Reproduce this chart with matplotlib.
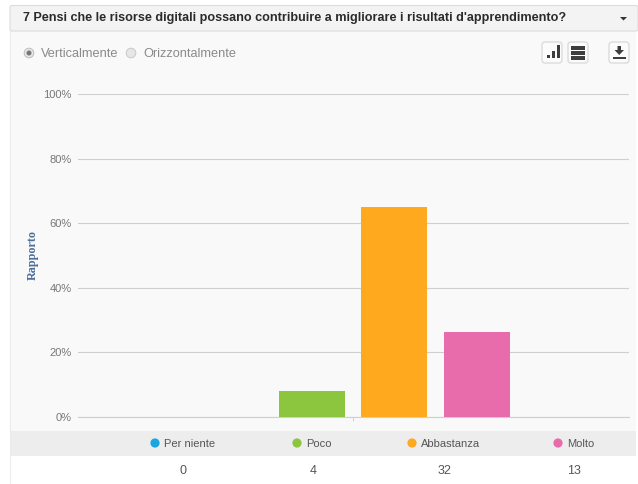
import matplotlib
matplotlib.use('Agg')
from matplotlib import pyplot as plt
from matplotlib.patches import Rectangle, FancyBboxPatch, Circle, Polygon

title = "7 Pensi che le risorse digitali possano contribuire a migliorare i risultati d'apprendimento?"
categories = ['Per niente', 'Poco', 'Abbastanza', 'Molto']
counts = [0, 4, 32, 13]
percents = [0, 7.9, 65.0, 26.3]
colors = ['#1ba6e0', '#8cc63f', '#ffa91f', '#e86bab']
legend_x = [155, 297, 412, 558]
count_x = [183, 313, 444, 574]
yticks = [0, 20, 40, 60, 80, 100]

plt.rcParams['font.family'] = ['Liberation Sans', 'DejaVu Sans']
fig = plt.figure(figsize=(6.38, 4.84), dpi=100, facecolor='white')

# page furniture, in pixels
bg = fig.add_axes([0, 0, 1, 1], zorder=0)
bg.set_xlim(0, 638)
bg.set_ylim(484, 0)
bg.axis('off')
bg.add_patch(Rectangle((10, 31), 626, 400, fc='#f9f9f9', ec='none'))
bg.add_patch(FancyBboxPatch((10, 5.5), 628, 25.5, boxstyle='round,pad=0,rounding_size=2',
                            fc='#f3f3f3', ec='#dcdcdc', lw=0.8))
bg.add_patch(Rectangle((10, 431), 626, 25, fc='#ededed', ec='none'))
bg.add_patch(Rectangle((10, 456), 626, 28, fc='white', ec='none'))
bg.plot([10, 10], [31, 484], c='#ececec', lw=0.8)
bg.text(23, 18.5, title, fontsize=9.1, fontweight='bold', color='#2b2b2b', va='center')
bg.add_patch(Polygon([[620, 17], [627, 17], [623.5, 20.5]], fc='#333333', ec='none'))

# radio buttons
bg.add_patch(Circle((29, 53), 4.8, fc='#e6e6e6', ec='#bdbdbd', lw=0.7))
bg.add_patch(Circle((29, 53), 2.5, fc='#777777', ec='none'))
bg.add_patch(Circle((131, 53), 4.8, fc='#e6e6e6', ec='#c8c8c8', lw=0.7))
bg.text(41, 54, 'Verticalmente', fontsize=9.2, color='#8a8a8a', va='center')
bg.text(143, 54, 'Orizzontalmente', fontsize=9.2, color='#8a8a8a', va='center')

# toolbar buttons
for x0 in [542, 568, 609]:
    bg.add_patch(FancyBboxPatch((x0, 42), 20, 21, boxstyle='round,pad=0,rounding_size=3',
                                fc='#fbfbfb', ec='#d8d8d8', lw=0.9))
for x0, h in [(546.5, 3), (551.5, 7), (556.5, 13)]:
    bg.add_patch(Rectangle((x0, 58 - h), 3.5, h, fc='#3d3d3d', ec='none'))
for y0 in [46, 51, 56]:
    bg.add_patch(Rectangle((571, y0), 14, 4, fc='#3d3d3d', ec='none'))
bg.add_patch(Polygon([[617.5, 46], [621, 46], [621, 50], [624, 50], [619.2, 55], [614.5, 50], [617.5, 50]],
                     fc='#3d3d3d', ec='none'))
bg.add_patch(Rectangle((613, 57), 13, 2, fc='#3d3d3d', ec='none'))

# legend band and counts
for name, n, col, lx, cx in zip(categories, counts, colors, legend_x, count_x):
    bg.add_patch(Circle((lx, 443), 4.6, fc=col, ec='none'))
    bg.text(lx + 9, 444, name, fontsize=8.0, color='#555555', va='center')
    bg.text(cx, 471, str(n), fontsize=9, color='#555555', va='center', ha='center')

# chart
ax = fig.add_axes([77.5 / 638, 1 - 417 / 484, 551 / 638, 323 / 484], zorder=1)
ax.patch.set_alpha(0)
for i, (p, col) in enumerate(zip(percents, colors)):
    ax.bar((i - 1.5) * 0.15, p, width=0.12, color=col, zorder=3)
ax.set_xlim(-0.5, 0.5)
ax.set_ylim(0, 100)
ax.set_yticks(yticks)
ax.set_yticklabels(['%d%%' % t for t in yticks], fontsize=8, color='#777777')
ax.set_xticks([0])
ax.set_xticklabels([''])
ax.tick_params(axis='x', length=3, width=0.6, color='#c0c8d8')
ax.tick_params(axis='y', length=0, pad=4)
ax.grid(axis='y', color='#cfcfcf', lw=0.8, zorder=1)
ax.set_axisbelow(True)
for s in ['top', 'left', 'right']:
    ax.spines[s].set_visible(False)
ax.spines['bottom'].set_color('#c8cfe0')
ax.spines['bottom'].set_linewidth(0.8)
bg.text(33, 255, 'Rapporto', rotation=90, fontsize=8.7, fontweight='bold', family='Liberation Serif',
        color='#4d6f99', va='center', ha='center')

fig.savefig('out.png', dpi=100)
